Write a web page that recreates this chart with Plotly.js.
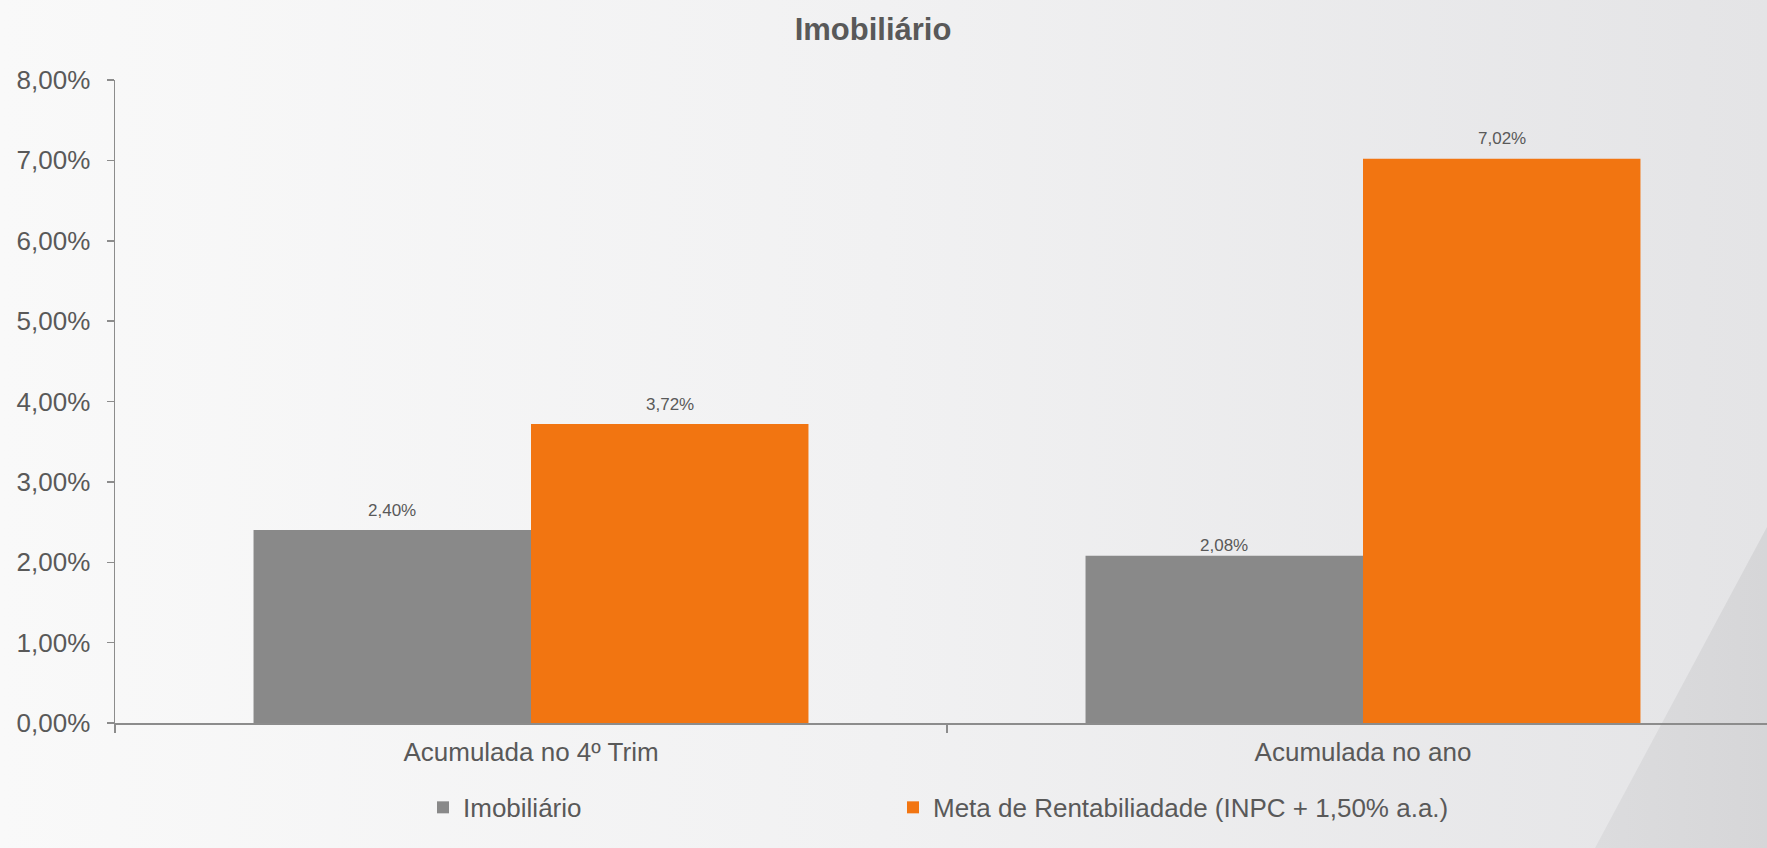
<!DOCTYPE html>
<html>
<head>
<meta charset="utf-8">
<script src="https://cdn.plot.ly/plotly-3.0.1.min.js"></script>
<style>
  html, body { margin: 0; padding: 0; width: 1767px; height: 848px; overflow: hidden; }
  #bg { position: absolute; left: 0; top: 0; width: 1767px; height: 848px; z-index: 0; }
  #chart { position: absolute; left: 0; top: 0; width: 1767px; height: 848px; z-index: 1; }
</style>
</head>
<body>
<svg id="bg" width="1767" height="848" xmlns="http://www.w3.org/2000/svg">
  <defs>
    <linearGradient id="g1" x1="0" y1="0" x2="1" y2="0">
      <stop offset="0" stop-color="#f9f9f9"/>
      <stop offset="0.5" stop-color="#f1f1f2"/>
      <stop offset="1" stop-color="#e4e4e6"/>
    </linearGradient>
    <linearGradient id="g2" x1="0" y1="0" x2="1" y2="0">
      <stop offset="0" stop-color="#dcdcde"/>
      <stop offset="1" stop-color="#d6d6d8"/>
    </linearGradient>
  </defs>
  <rect x="0" y="0" width="1767" height="848" fill="url(#g1)"/>
  <polygon points="1767,527 1767,848 1595,848" fill="url(#g2)"/>
</svg>
<div id="chart"></div>
<script>
// ---- data ----
const categories = ["Acumulada no 4º Trim", "Acumulada no ano"];
const seriesNames = ["Imobiliário", "Meta de Rentabiliadade (INPC + 1,50% a.a.)"];
const imobiliario = [2.40, 2.08];
const meta = [3.72, 7.02];
const yTickVals = [0, 1, 2, 3, 4, 5, 6, 7, 8];
const chartTitle = "Imobiliário";

// ---- styling ----
const FONT = "'Liberation Sans', Arial, sans-serif";
const TXT = "#595959";
const colors = ["#898989", "#F27511"];
const bargap = 0.333;
// vertical offsets (px) of the data labels, per series / category
const labelShift = [[8, -1], [8, 9]];

function fmt(v) { return v.toFixed(2).replace('.', ',') + '%'; }

const series = [imobiliario, meta];
const legendIds = ['legend', 'legend2'];
const traces = series.map((vals, i) => ({
  type: 'bar',
  name: seriesNames[i],
  x: categories,
  y: vals,
  legend: legendIds[i],
  marker: { color: colors[i], line: { width: 0 } },
  hoverinfo: 'none'
}));

// data labels via annotations positioned on the bar centers
const barW = (1 - bargap) / series.length;
const annotations = [];
series.forEach((vals, s) => {
  vals.forEach((v, c) => {
    annotations.push({
      x: c - (1 - bargap) / 2 + barW * (s + 0.5),
      y: v,
      xref: 'x', yref: 'y',
      text: fmt(v),
      showarrow: false,
      yanchor: 'bottom',
      yshift: labelShift[s][c],
      font: { family: FONT, size: 17, color: TXT }
    });
  });
});

const plotLeft = 115, plotW = 1767 - plotLeft, catW = 832, plotBottom = 723.5, plotH = 643.5;
const legendY = -(808 - plotBottom) / plotH;
function legendAt(textStartPx) {
  return {
    orientation: 'h',
    x: (textStartPx - 40 - plotLeft) / plotW, xanchor: 'left',
    y: legendY, yanchor: 'middle',
    font: { family: FONT, size: 26, color: TXT },
    bgcolor: 'rgba(0,0,0,0)'
  };
}

const layout = {
  width: 1767, height: 848,
  paper_bgcolor: 'rgba(0,0,0,0)',
  plot_bgcolor: 'rgba(0,0,0,0)',
  margin: { l: plotLeft, r: 0, t: 80, b: 848 - plotBottom, pad: 0, autoexpand: false },
  title: {
    text: '<b>' + chartTitle + '</b>',
    font: { family: FONT, size: 31, color: TXT },
    x: 873 / 1767, xref: 'container', xanchor: 'center',
    y: 1 - 29 / 848, yref: 'container', yanchor: 'middle'
  },
  barmode: 'group',
  bargap: bargap,
  bargroupgap: 0,
  showlegend: true,
  legend: legendAt(463),
  legend2: legendAt(933),
  xaxis: {
    type: 'category',
    range: [-0.5, -0.5 + plotW / catW],
    showline: true, linecolor: '#8c8c8c', linewidth: 1.5,
    ticks: 'outside', tickson: 'boundaries', ticklen: 8, tickcolor: '#8c8c8c', tickwidth: 1.5,
    ticklabelstandoff: 5,
    showgrid: false, zeroline: false,
    tickfont: { family: FONT, size: 26, color: TXT },
    fixedrange: true
  },
  yaxis: {
    range: [0, 8],
    tickmode: 'array',
    tickvals: yTickVals,
    ticktext: yTickVals.map(fmt),
    showline: true, linecolor: '#8c8c8c', linewidth: 1.5,
    ticks: 'outside', ticklen: 7, tickcolor: '#8c8c8c', tickwidth: 1.5,
    ticklabelstandoff: 11,
    showgrid: false, zeroline: false,
    tickfont: { family: FONT, size: 26, color: TXT },
    fixedrange: true
  },
  annotations: annotations
};

Plotly.newPlot('chart', traces, layout, { displayModeBar: false, staticPlot: true });
</script>
</body>
</html>
